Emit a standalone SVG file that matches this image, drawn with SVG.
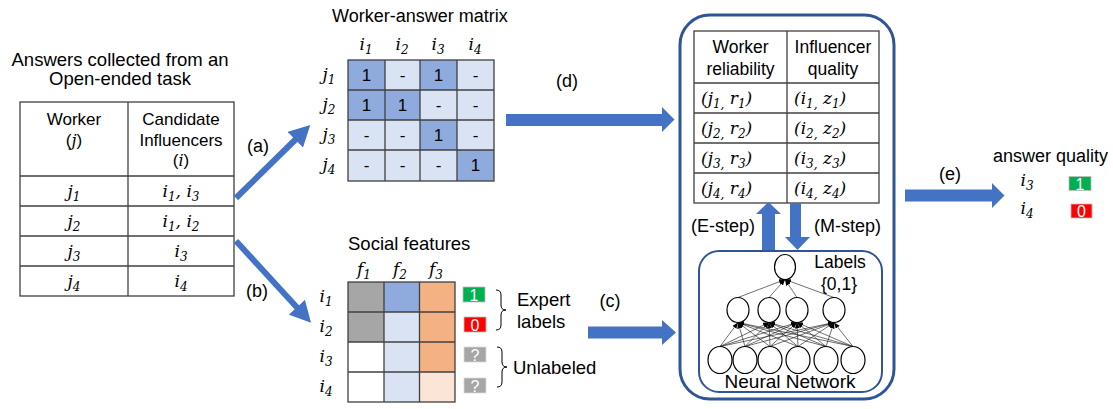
<svg xmlns="http://www.w3.org/2000/svg" width="1113" height="409" viewBox="0 0 1113 409">
  <style>
    .t { font-family: "Liberation Sans", Arial, sans-serif; fill: #000; }
    .m { font-family: "DejaVu Serif", "Liberation Serif", serif; font-style: italic; fill: #000; }
    .grid { fill: none; stroke: #404040; stroke-width: 1.3; }
    .dk { fill: #8faadc; }
    .lt { fill: #dae3f3; }
    .badge { font-family: "Liberation Sans", Arial, sans-serif; fill: #fff; font-size: 16px; text-anchor: middle; }
    .blk { fill: #4472c4; }
    .nn-edge { stroke: #222; stroke-width: 0.65; marker-end: url(#tiny); }
    .neuron { fill: #fff; stroke: #000; stroke-width: 1.2; }
  </style>
  <defs>
    <marker id="head" markerUnits="userSpaceOnUse" markerWidth="22" markerHeight="22" refX="1" refY="11" orient="auto">
      <path d="M0,0 L21,11 L0,22 z" fill="#4472c4"/>
    </marker>
    <marker id="tiny" markerUnits="userSpaceOnUse" markerWidth="6" markerHeight="5" refX="6" refY="2.5" orient="auto">
      <path d="M0,0 L6,2.5 L0,5 z" fill="#000"/>
    </marker>
  </defs>

  <!-- answers table -->
  <g id="answers-table">
    <text class="t" x="120" y="66" font-size="18.5" text-anchor="middle">Answers collected from an</text>
    <text class="t" x="120" y="85" font-size="18.5" text-anchor="middle">Open-ended task</text>
    <rect class="grid" x="20" y="102" width="214" height="194"/>
    <line class="grid" x1="128" y1="102" x2="128" y2="296"/>
    <line class="grid" x1="20" y1="176" x2="234" y2="176"/>
    <line class="grid" x1="20" y1="206" x2="234" y2="206"/>
    <line class="grid" x1="20" y1="236" x2="234" y2="236"/>
    <line class="grid" x1="20" y1="266" x2="234" y2="266"/>
    <text class="t" x="74" y="125" font-size="17" text-anchor="middle">Worker</text>
    <text class="t" x="74" y="146" font-size="17" text-anchor="middle">(<tspan class="m" font-size="16">j</tspan>)</text>
    <text class="t" x="181" y="125" font-size="17" text-anchor="middle">Candidate</text>
    <text class="t" x="181" y="146" font-size="17" text-anchor="middle">Influencers</text>
    <text class="t" x="181" y="166" font-size="17" text-anchor="middle">(<tspan class="m" font-size="16">i</tspan>)</text>
    <g class="m" font-size="17" text-anchor="middle">
      <text x="74" y="197">j<tspan font-size="12" dy="4">1</tspan></text>
      <text x="74" y="227">j<tspan font-size="12" dy="4">2</tspan></text>
      <text x="74" y="257">j<tspan font-size="12" dy="4">3</tspan></text>
      <text x="74" y="287">j<tspan font-size="12" dy="4">4</tspan></text>
      <text x="181" y="197">i<tspan font-size="12" dy="4">1</tspan><tspan dy="-4">, i</tspan><tspan font-size="12" dy="4">3</tspan></text>
      <text x="181" y="227">i<tspan font-size="12" dy="4">1</tspan><tspan dy="-4">, i</tspan><tspan font-size="12" dy="4">2</tspan></text>
      <text x="181" y="257">i<tspan font-size="12" dy="4">3</tspan></text>
      <text x="181" y="287">i<tspan font-size="12" dy="4">4</tspan></text>
    </g>
  </g>

  <!-- worker-answer matrix -->
  <g id="worker-answer-matrix">
    <text class="t" x="332" y="22" font-size="18">Worker-answer matrix</text>
    <g class="m" font-size="17" text-anchor="middle">
      <text x="366" y="50">i<tspan font-size="12" dy="4">1</tspan></text>
      <text x="402" y="50">i<tspan font-size="12" dy="4">2</tspan></text>
      <text x="438" y="50">i<tspan font-size="12" dy="4">3</tspan></text>
      <text x="475" y="50">i<tspan font-size="12" dy="4">4</tspan></text>
      <text x="329" y="80">j<tspan font-size="12" dy="4">1</tspan></text>
      <text x="329" y="110">j<tspan font-size="12" dy="4">2</tspan></text>
      <text x="329" y="140">j<tspan font-size="12" dy="4">3</tspan></text>
      <text x="329" y="170">j<tspan font-size="12" dy="4">4</tspan></text>
    </g>
    <!-- row j1 -->
    <rect class="dk" x="348" y="60" width="37" height="30"/>
    <rect class="lt" x="385" y="60" width="35" height="30"/>
    <rect class="dk" x="420" y="60" width="37" height="30"/>
    <rect class="lt" x="457" y="60" width="37" height="30"/>
    <!-- row j2 -->
    <rect class="dk" x="348" y="90" width="37" height="30"/>
    <rect class="dk" x="385" y="90" width="35" height="30"/>
    <rect class="lt" x="420" y="90" width="37" height="30"/>
    <rect class="lt" x="457" y="90" width="37" height="30"/>
    <!-- row j3 -->
    <rect class="lt" x="348" y="120" width="37" height="30"/>
    <rect class="lt" x="385" y="120" width="35" height="30"/>
    <rect class="dk" x="420" y="120" width="37" height="30"/>
    <rect class="lt" x="457" y="120" width="37" height="30"/>
    <!-- row j4 -->
    <rect class="lt" x="348" y="150" width="37" height="31"/>
    <rect class="lt" x="385" y="150" width="35" height="31"/>
    <rect class="lt" x="420" y="150" width="37" height="31"/>
    <rect class="dk" x="457" y="150" width="37" height="31"/>
    <rect class="grid" x="348" y="60" width="146" height="121"/>
    <line class="grid" x1="385" y1="60" x2="385" y2="181"/>
    <line class="grid" x1="420" y1="60" x2="420" y2="181"/>
    <line class="grid" x1="457" y1="60" x2="457" y2="181"/>
    <line class="grid" x1="348" y1="90" x2="494" y2="90"/>
    <line class="grid" x1="348" y1="120" x2="494" y2="120"/>
    <line class="grid" x1="348" y1="150" x2="494" y2="150"/>
    <g class="t" font-size="17" text-anchor="middle">
      <text x="366.5" y="81">1</text><text x="402.5" y="81">-</text><text x="438.5" y="81">1</text><text x="475.5" y="81">-</text>
      <text x="366.5" y="111">1</text><text x="402.5" y="111">1</text><text x="438.5" y="111">-</text><text x="475.5" y="111">-</text>
      <text x="366.5" y="141">-</text><text x="402.5" y="141">-</text><text x="438.5" y="141">1</text><text x="475.5" y="141">-</text>
      <text x="366.5" y="171">-</text><text x="402.5" y="171">-</text><text x="438.5" y="171">-</text><text x="475.5" y="171">1</text>
    </g>
  </g>

  <!-- social features -->
  <g id="social-features">
    <text class="t" x="348" y="250" font-size="18.5">Social features</text>
    <g class="m" font-size="17" text-anchor="middle">
      <text x="364" y="275">f<tspan font-size="12" dy="4">1</tspan></text>
      <text x="400" y="275">f<tspan font-size="12" dy="4">2</tspan></text>
      <text x="436" y="275">f<tspan font-size="12" dy="4">3</tspan></text>
      <text x="326" y="302">i<tspan font-size="12" dy="4">1</tspan></text>
      <text x="326" y="332">i<tspan font-size="12" dy="4">2</tspan></text>
      <text x="326" y="362">i<tspan font-size="12" dy="4">3</tspan></text>
      <text x="326" y="392">i<tspan font-size="12" dy="4">4</tspan></text>
    </g>
    <rect x="348" y="282" width="36" height="60" fill="#a6a6a6"/>
    <rect x="348" y="342" width="36" height="60" fill="#fff"/>
    <rect x="384" y="282" width="35.5" height="30" fill="#8faadc"/>
    <rect x="384" y="312" width="35.5" height="90" fill="#dae3f3"/>
    <rect x="419.5" y="282" width="35.5" height="90" fill="#f4b183"/>
    <rect x="419.5" y="372" width="35.5" height="30" fill="#fbe5d6"/>
    <rect class="grid" x="348" y="282" width="107" height="120"/>
    <line class="grid" x1="384" y1="282" x2="384" y2="402"/>
    <line class="grid" x1="419.5" y1="282" x2="419.5" y2="402"/>
    <line class="grid" x1="348" y1="312" x2="455" y2="312"/>
    <line class="grid" x1="348" y1="342" x2="455" y2="342"/>
    <line class="grid" x1="348" y1="372" x2="455" y2="372"/>
    <rect x="463" y="287" width="22" height="15" fill="#00b050" stroke="#bfbfbf" stroke-width="0.8"/>
    <text class="badge" x="474" y="300.5">1</text>
    <rect x="464" y="317" width="22" height="15" fill="#ff0000" stroke="#bfbfbf" stroke-width="0.8"/>
    <text class="badge" x="475" y="330.5">0</text>
    <rect x="464" y="347" width="22" height="15" fill="#a6a6a6" stroke="#d9d9d9" stroke-width="0.8"/>
    <text class="badge" x="475" y="360.5">?</text>
    <rect x="464" y="378" width="22" height="15" fill="#a6a6a6" stroke="#d9d9d9" stroke-width="0.8"/>
    <text class="badge" x="475" y="391.5">?</text>
    <path d="M496,290 Q501,290 501,295 L501,305 Q501,310 506,310 Q501,310 501,315 L501,325 Q501,330 496,330" fill="none" stroke="#000" stroke-width="1"/>
    <path d="M497,347 Q502,347 502,352 L502,362 Q502,367 507,367 Q502,367 502,372 L502,382 Q502,387 497,387" fill="none" stroke="#000" stroke-width="1"/>
    <text class="t" x="517" y="306" font-size="18.5">Expert</text>
    <text class="t" x="517" y="328" font-size="18.5">labels</text>
    <text class="t" x="513" y="374" font-size="18.5">Unlabeled</text>
  </g>

  <!-- EM model -->
  <g id="em-model">
    <rect x="680" y="15" width="214" height="384" rx="30" fill="none" stroke="#2f5597" stroke-width="3"/>
  </g>

  <g id="estimates-table">
    <rect class="grid" x="694" y="31" width="185" height="172" fill="#fff"/>
    <line class="grid" x1="787" y1="31" x2="787" y2="203"/>
    <line class="grid" x1="694" y1="83" x2="879" y2="83"/>
    <line class="grid" x1="694" y1="113" x2="879" y2="113"/>
    <line class="grid" x1="694" y1="143" x2="879" y2="143"/>
    <line class="grid" x1="694" y1="173" x2="879" y2="173"/>
    <text class="t" x="740.5" y="53" font-size="17.5" text-anchor="middle">Worker</text>
    <text class="t" x="740.5" y="75" font-size="17.5" text-anchor="middle">reliability</text>
    <text class="t" x="833" y="53" font-size="17.5" text-anchor="middle">Influencer</text>
    <text class="t" x="833" y="75" font-size="17.5" text-anchor="middle">quality</text>
    <g class="m" font-size="17">
      <text x="701" y="104">(j<tspan font-size="12" dy="4">1,</tspan><tspan dy="-4"> r</tspan><tspan font-size="12" dy="4">1</tspan><tspan dy="-4">)</tspan></text>
      <text x="701" y="134">(j<tspan font-size="12" dy="4">2,</tspan><tspan dy="-4"> r</tspan><tspan font-size="12" dy="4">2</tspan><tspan dy="-4">)</tspan></text>
      <text x="701" y="164">(j<tspan font-size="12" dy="4">3,</tspan><tspan dy="-4"> r</tspan><tspan font-size="12" dy="4">3</tspan><tspan dy="-4">)</tspan></text>
      <text x="701" y="194">(j<tspan font-size="12" dy="4">4,</tspan><tspan dy="-4"> r</tspan><tspan font-size="12" dy="4">4</tspan><tspan dy="-4">)</tspan></text>
      <text x="794" y="104">(i<tspan font-size="12" dy="4">1,</tspan><tspan dy="-4"> z</tspan><tspan font-size="12" dy="4">1</tspan><tspan dy="-4">)</tspan></text>
      <text x="794" y="134">(i<tspan font-size="12" dy="4">2,</tspan><tspan dy="-4"> z</tspan><tspan font-size="12" dy="4">2</tspan><tspan dy="-4">)</tspan></text>
      <text x="794" y="164">(i<tspan font-size="12" dy="4">3,</tspan><tspan dy="-4"> z</tspan><tspan font-size="12" dy="4">3</tspan><tspan dy="-4">)</tspan></text>
      <text x="794" y="194">(i<tspan font-size="12" dy="4">4,</tspan><tspan dy="-4"> z</tspan><tspan font-size="12" dy="4">4</tspan><tspan dy="-4">)</tspan></text>
    </g>
  </g>

  <g id="neural-network">
    <rect x="699" y="251" width="183" height="141" rx="20" fill="#fff" stroke="#2f5597" stroke-width="2"/>
    <!-- input to hidden -->
    <g class="nn-edges">
      <line class="nn-edge" x1="720" y1="346.5" x2="738" y2="322.5"/><line class="nn-edge" x1="720" y1="346.5" x2="769" y2="322.5"/><line class="nn-edge" x1="720" y1="346.5" x2="797" y2="322.5"/><line class="nn-edge" x1="720" y1="346.5" x2="834" y2="322.5"/>
      <line class="nn-edge" x1="745" y1="346.5" x2="738" y2="322.5"/><line class="nn-edge" x1="745" y1="346.5" x2="769" y2="322.5"/><line class="nn-edge" x1="745" y1="346.5" x2="797" y2="322.5"/><line class="nn-edge" x1="745" y1="346.5" x2="834" y2="322.5"/>
      <line class="nn-edge" x1="770" y1="346.5" x2="738" y2="322.5"/><line class="nn-edge" x1="770" y1="346.5" x2="769" y2="322.5"/><line class="nn-edge" x1="770" y1="346.5" x2="797" y2="322.5"/><line class="nn-edge" x1="770" y1="346.5" x2="834" y2="322.5"/>
      <line class="nn-edge" x1="798" y1="346.5" x2="738" y2="322.5"/><line class="nn-edge" x1="798" y1="346.5" x2="769" y2="322.5"/><line class="nn-edge" x1="798" y1="346.5" x2="797" y2="322.5"/><line class="nn-edge" x1="798" y1="346.5" x2="834" y2="322.5"/>
      <line class="nn-edge" x1="826" y1="346.5" x2="738" y2="322.5"/><line class="nn-edge" x1="826" y1="346.5" x2="769" y2="322.5"/><line class="nn-edge" x1="826" y1="346.5" x2="797" y2="322.5"/><line class="nn-edge" x1="826" y1="346.5" x2="834" y2="322.5"/>
      <line class="nn-edge" x1="853" y1="346.5" x2="738" y2="322.5"/><line class="nn-edge" x1="853" y1="346.5" x2="769" y2="322.5"/><line class="nn-edge" x1="853" y1="346.5" x2="797" y2="322.5"/><line class="nn-edge" x1="853" y1="346.5" x2="834" y2="322.5"/>
      <!-- hidden to output -->
      <line class="nn-edge" x1="738" y1="297.5" x2="785" y2="279.5"/>
      <line class="nn-edge" x1="769" y1="297.5" x2="785" y2="279.5"/>
      <line class="nn-edge" x1="797" y1="297.5" x2="785" y2="279.5"/>
      <line class="nn-edge" x1="834" y1="297.5" x2="785" y2="279.5"/>
    </g>
    <ellipse class="neuron" cx="785" cy="267" rx="10.5" ry="12.5"/>
    <ellipse class="neuron" cx="738" cy="310" rx="11" ry="12.5"/>
    <ellipse class="neuron" cx="769" cy="310" rx="11" ry="12.5"/>
    <ellipse class="neuron" cx="797" cy="310" rx="11" ry="12.5"/>
    <ellipse class="neuron" cx="834" cy="310" rx="11" ry="12.5"/>
    <ellipse class="neuron" cx="720" cy="360" rx="12" ry="13.5"/>
    <ellipse class="neuron" cx="745" cy="360" rx="12" ry="13.5"/>
    <ellipse class="neuron" cx="770" cy="360" rx="12" ry="13.5"/>
    <ellipse class="neuron" cx="798" cy="360" rx="12" ry="13.5"/>
    <ellipse class="neuron" cx="826" cy="360" rx="12" ry="13.5"/>
    <ellipse class="neuron" cx="853" cy="360" rx="12" ry="13.5"/>
    <text class="t" x="840" y="268" font-size="17.5" text-anchor="middle">Labels</text>
    <text class="t" x="839" y="290" font-size="17.5" text-anchor="middle">{0,1}</text>
    <text class="t" x="790" y="388" font-size="19" text-anchor="middle">Neural Network</text>
  </g>

  <!-- answer quality output -->
  <g id="answer-quality">
    <text class="t" x="993" y="162" font-size="18">answer quality</text>
    <text class="m" x="1027" y="186" font-size="17" text-anchor="middle">i<tspan font-size="12" dy="4">3</tspan></text>
    <text class="m" x="1027" y="214" font-size="17" text-anchor="middle">i<tspan font-size="12" dy="4">4</tspan></text>
    <rect x="1069" y="176.5" width="22" height="14" fill="#00b050" stroke="#bfbfbf" stroke-width="0.8"/>
    <text class="badge" x="1080" y="189.5">1</text>
    <rect x="1071" y="204" width="21" height="14" fill="#ff0000" stroke="#bfbfbf" stroke-width="0.8"/>
    <text class="badge" x="1081.5" y="217">0</text>
  </g>

  <!-- connectors -->
  <g id="connectors">
    <line x1="236" y1="198" x2="296" y2="139" stroke="#4472c4" stroke-width="6" marker-end="url(#head)"/>
    <line x1="236" y1="241" x2="297.5" y2="308" stroke="#4472c4" stroke-width="6" marker-end="url(#head)"/>
    <polygon class="blk" points="506,114 662,114 662,107 674.5,119.5 662,132 662,126 506,126"/>
    <polygon class="blk" points="588,326.5 662,326.5 662,320 676,332.5 662,345 662,338.5 588,338.5"/>
    <polygon class="blk" points="905,189.5 992,189.5 992,183 1004.5,195.5 992,208 992,201.5 905,201.5"/>
    <polygon class="blk" points="762,250 762,214 756,214 768.5,202 781,214 775,214 775,250"/>
    <polygon class="blk" points="790,203 801,203 801,237 810,237 797.5,250 785,237 790,237"/>
    <g class="t" font-size="18" text-anchor="middle">
      <text x="258" y="152">(a)</text>
      <text x="257" y="297">(b)</text>
      <text x="610" y="307">(c)</text>
      <text x="567" y="87">(d)</text>
      <text x="950" y="180">(e)</text>
      <text x="723" y="232">(E-step)</text>
      <text x="847.5" y="232">(M-step)</text>
    </g>
  </g>
</svg>
